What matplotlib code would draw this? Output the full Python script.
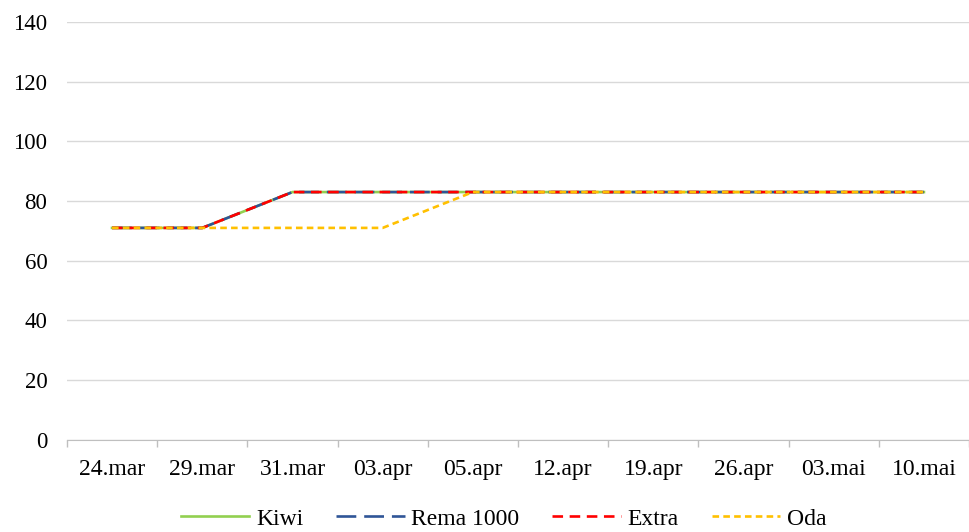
import numpy as np
import matplotlib.pyplot as plt
from matplotlib.ticker import FixedLocator

plt.rcParams['font.family'] = ['Liberation Serif', 'DejaVu Serif']

dates = ['24.mar', '29.mar', '31.mar', '03.apr', '05.apr', '12.apr', '19.apr', '26.apr', '03.mai', '10.mai']
kiwi = [71, 71, 83, 83, 83, 83, 83, 83, 83, 83]
rema = [71, 71, 83, 83, 83, 83, 83, 83, 83, 83]
extra = [71, 71, 83, 83, 83, 83, 83, 83, 83, 83]
oda = [71, 71, 71, 71, 83, 83, 83, 83, 83, 83]

fig = plt.figure(figsize=(9.7, 5.32), dpi=100)
ax = fig.add_axes([0.069, 0.173, 0.93, 0.786])

x = np.arange(len(dates))
lw = 1.9
ax.plot(x, kiwi, color='#92D050', lw=lw, label='Kiwi')
ax.plot(x, rema, color='#2F5597', lw=lw, dashes=(7.5, 3), label='Rema 1000')
ax.plot(x, extra, color='#FF0000', lw=lw, dashes=(4, 2.5), label='Extra')
ax.plot(x, oda, color='#FFC000', lw=lw, dashes=(2.5, 1.6), label='Oda')

ax.set_xlim(-0.5, len(dates) - 0.5)
ax.set_ylim(0, 140)
ax.set_yticks(range(0, 141, 20))
ax.set_xticks(x)
ax.set_xticklabels(dates)
ax.xaxis.set_minor_locator(FixedLocator(np.arange(-0.5, len(dates), 1)))
ax.tick_params(axis='x', which='major', length=0, pad=14, labelsize=17)
ax.tick_params(axis='x', which='minor', length=5, color='#BFBFBF', width=1)
ax.tick_params(axis='y', length=0, pad=14, labelsize=16.5)

ax.grid(axis='y', color='#D9D9D9', lw=1)
ax.set_axisbelow(True)
for s in ['top', 'right', 'left']:
    ax.spines[s].set_visible(False)
ax.spines['bottom'].set_color('#BFBFBF')

ax.legend(loc='center', bbox_to_anchor=(0.484, -0.189), ncol=4, frameon=False,
          fontsize=17, handlelength=2.9, columnspacing=1.4, handletextpad=0.28,
          borderpad=0)

fig.savefig('out.png', dpi=100)
